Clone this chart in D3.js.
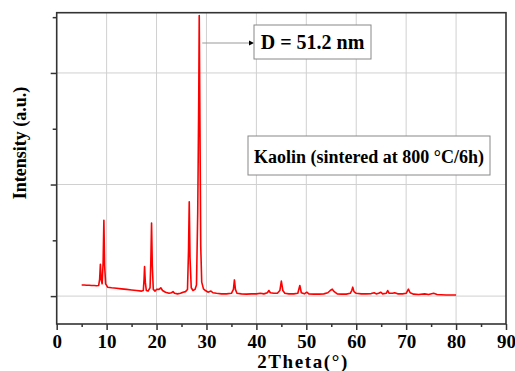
<!DOCTYPE html>
<html><head><meta charset="utf-8">
<script src="https://cdn.jsdelivr.net/npm/d3@7/dist/d3.min.js"></script>
<style>body{margin:0;background:#fff}svg{display:block}</style>
</head><body><div id="chart"></div>
<script>
// 2Theta values (degrees) and intensities (a.u.)
const twoTheta = [5.0,5.5,6.0,6.5,7.0,7.5,8.0,8.4,8.6,8.75,8.9,9.1,9.3,9.45,9.6,9.8,10.2,11,12,13,14,15,16,17,17.35,17.5,17.6,17.75,17.95,18.3,18.7,18.85,19.0,19.15,19.35,19.7,20.0,20.5,20.85,21.2,21.8,22.5,23.0,23.3,23.6,24.2,24.8,25.3,25.8,26.2,26.4,26.55,26.7,26.95,27.3,27.7,28.0,28.25,28.45,28.55,28.7,28.85,29.05,29.4,29.8,30.3,30.9,31.3,32.0,33,34,35.0,35.4,35.6,35.8,36.1,37,38,39,40,40.8,41.5,42.2,42.5,42.8,43.5,44.2,44.7,45.0,45.3,45.7,46.5,47.5,48.3,48.7,49.0,49.6,50.1,50.5,51.5,52.5,53.5,54.3,54.8,55.2,55.6,56.2,57,58,58.8,59.1,59.3,59.55,60,61,62,63,63.6,64.0,64.5,64.9,65.3,66.0,66.3,66.6,67.3,67.7,68.3,69.3,70.0,70.45,70.8,71.5,72.5,73.7,74.5,75.5,76.2,77,78,79,80];
const intensity = [0.20,0.20,0.195,0.195,0.19,0.19,0.185,0.19,0.30,0.57,0.30,0.22,0.60,1.36,0.55,0.22,0.16,0.15,0.14,0.13,0.12,0.11,0.10,0.09,0.10,0.30,0.53,0.25,0.10,0.09,0.15,0.60,1.31,0.55,0.12,0.09,0.12,0.12,0.15,0.10,0.07,0.05,0.06,0.08,0.05,0.04,0.05,0.07,0.08,0.12,0.80,1.69,0.70,0.15,0.10,0.12,0.20,1.5,3.5,5.03,3.0,0.9,0.25,0.13,0.10,0.07,0.09,0.06,0.05,0.04,0.04,0.05,0.12,0.29,0.12,0.05,0.04,0.035,0.04,0.04,0.05,0.04,0.06,0.10,0.06,0.05,0.05,0.10,0.27,0.10,0.05,0.04,0.04,0.05,0.19,0.06,0.04,0.07,0.04,0.035,0.035,0.04,0.06,0.10,0.125,0.08,0.04,0.035,0.035,0.05,0.10,0.16,0.08,0.05,0.04,0.04,0.045,0.06,0.04,0.05,0.07,0.04,0.05,0.10,0.05,0.05,0.06,0.04,0.04,0.05,0.125,0.06,0.035,0.03,0.04,0.03,0.05,0.03,0.025,0.02,0.02,0.02];
const xTicks = [0,10,20,30,40,50,60,70,80,90];
const xMinorTicks = [5,15,25,35,45,55,65,75,85];
const yMajorTicks = [0,2,4];
const yMinorTicks = [1,3,5];
const xLabel = "2Theta(°)";
const yLabel = "Intensity (a.u.)";
const annotationText = "D = 51.2 nm";
const sampleText = "Kaolin (sintered at 800 °C/6h)";

const W = 515, H = 371;
const m = {left: 56.7, right: 9, top: 12.7, bottom: 47};
const svg = d3.select("#chart").append("svg").attr("width", W).attr("height", H);
const x = d3.scaleLinear().domain([0, 90]).range([m.left, W - m.right]);
const y = d3.scaleLinear().domain([-0.5, 5.08]).range([H - m.bottom, m.top]);
const serif = "'Liberation Serif','Times New Roman',serif";

// grid
svg.append("g").selectAll("line").data(xTicks.slice(1, -1)).join("line")
  .attr("x1", d => x(d)).attr("x2", d => x(d)).attr("y1", y.range()[1]).attr("y2", y.range()[0])
  .attr("stroke", "#d0d0d0").attr("stroke-width", 1);
svg.append("g").selectAll("line").data(yMajorTicks).join("line")
  .attr("x1", x.range()[0]).attr("x2", x.range()[1]).attr("y1", d => y(d)).attr("y2", d => y(d))
  .attr("stroke", "#d0d0d0").attr("stroke-width", 1);

// data line
const pts = twoTheta.map((t, i) => [t, intensity[i]]);
svg.append("path").datum(pts)
  .attr("fill", "none").attr("stroke", "#ff0000").attr("stroke-width", 1.6).attr("stroke-linejoin", "round")
  .attr("d", d3.line().x(d => x(d[0])).y(d => y(d[1])));

// axes
const axisColor = "#333";
const gx = svg.append("g").attr("transform", `translate(0,${y.range()[0]})`)
  .call(d3.axisBottom(x).tickValues(xTicks).tickSize(6).tickPadding(5).tickFormat(d3.format("d")));
gx.attr("font-family", null).attr("font-size", null);
gx.selectAll(".tick text")
  .style("font-family", serif).style("font-weight", "bold").style("font-size", "19px").attr("fill", "#000");
const gx2 = svg.append("g").attr("transform", `translate(0,${y.range()[0]})`)
  .call(d3.axisBottom(x).tickValues(xMinorTicks).tickSize(3).tickFormat(""));
const gy = svg.append("g").attr("transform", `translate(${x.range()[0]},0)`)
  .call(d3.axisLeft(y).tickValues(yMajorTicks).tickSize(6).tickFormat(""));
const gy2 = svg.append("g").attr("transform", `translate(${x.range()[0]},0)`)
  .call(d3.axisLeft(y).tickValues(yMinorTicks).tickSize(4).tickFormat(""));
[gx, gx2, gy, gy2].forEach(g => {
  g.select(".domain").remove();
  g.selectAll(".tick line").attr("stroke", axisColor).attr("stroke-width", 1.5);
});
// frame
svg.append("rect").attr("x", x.range()[0]).attr("y", y.range()[1])
  .attr("width", x.range()[1] - x.range()[0]).attr("height", y.range()[0] - y.range()[1])
  .attr("fill", "none").attr("stroke", axisColor).attr("stroke-width", 1.6);

// axis labels
svg.append("text").attr("x", 303).attr("y", 368).attr("text-anchor", "middle")
  .style("font-family", serif).style("font-weight", "bold").style("font-size", "19px").attr("letter-spacing", 1.6)
  .text(xLabel);
svg.append("text").attr("transform", `translate(26,143) rotate(-90)`).attr("text-anchor", "middle")
  .style("font-family", serif).style("font-weight", "bold").style("font-size", "18px")
  .text(yLabel);

// annotation D
const ax0 = x(28.55) + 3, ay = 43;
svg.append("line").attr("x1", ax0).attr("x2", 250).attr("y1", ay).attr("y2", ay)
  .attr("stroke", "#999").attr("stroke-width", 1.2);
svg.append("path").attr("d", `M249,${ay-2.5}L254,${ay}L249,${ay+2.5}Z`).attr("fill", "#000");
svg.append("rect").attr("x", 254).attr("y", 25).attr("width", 117).attr("height", 34)
  .attr("fill", "#fff").attr("stroke", "#888").attr("stroke-width", 1);
svg.append("text").attr("x", 312.5).attr("y", 48.5).attr("text-anchor", "middle")
  .style("font-family", serif).style("font-weight", "bold").style("font-size", "20px").text(annotationText);

// sample box
svg.append("rect").attr("x", 248).attr("y", 136).attr("width", 242).attr("height", 39)
  .attr("fill", "#fff").attr("stroke", "#888").attr("stroke-width", 1);
svg.append("text").attr("x", 369).attr("y", 162.5).attr("text-anchor", "middle")
  .style("font-family", serif).style("font-weight", "bold").style("font-size", "18px").text(sampleText);
</script></body></html>
